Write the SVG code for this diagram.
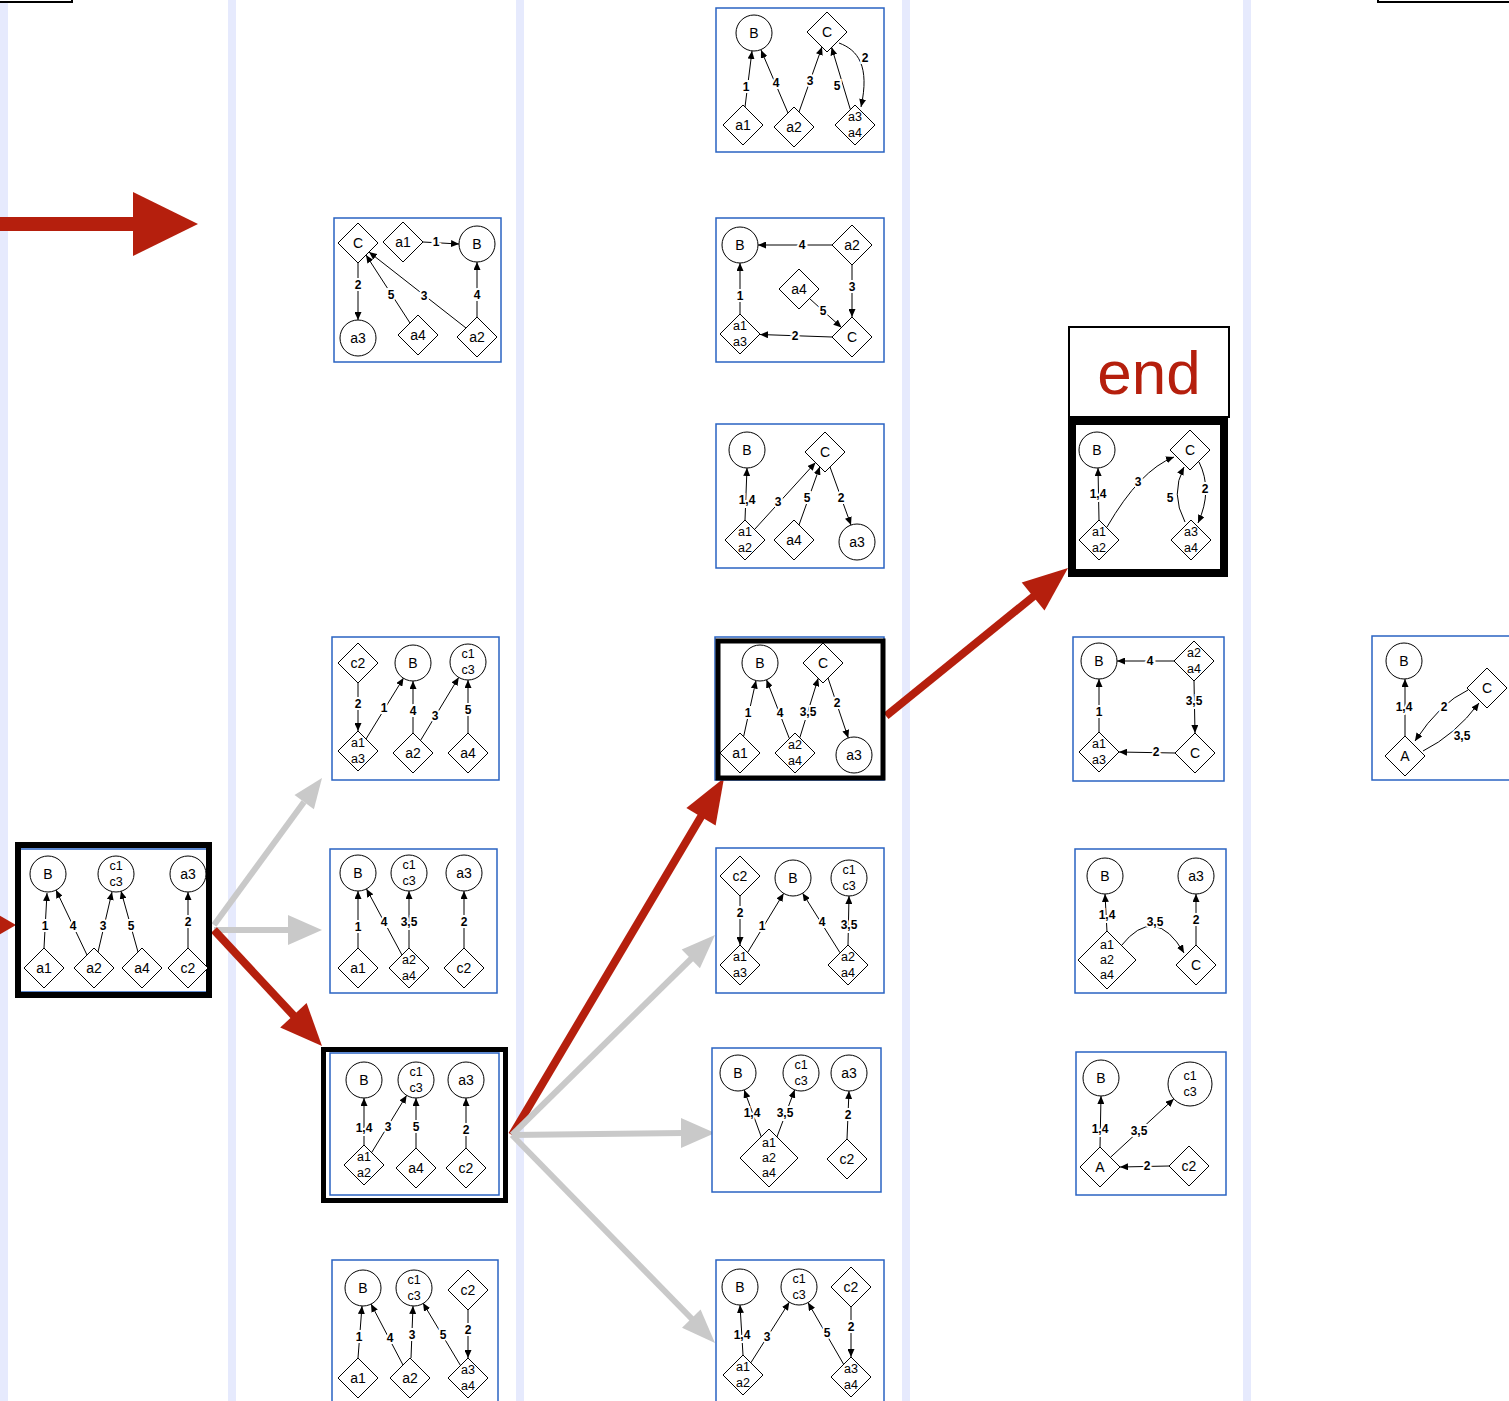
<svg xmlns="http://www.w3.org/2000/svg" xmlns:xlink="http://www.w3.org/1999/xlink" width="1509" height="1401" viewBox="0 0 1509 1401">
<style>
.band{fill:#e6eafd}
.pn{fill:#fff;stroke:#2a63c2;stroke-width:1.5}
.nc{fill:#fff;stroke:#000;stroke-width:1}
.nt{font-family:"Liberation Sans",Arial,sans-serif;font-size:14px;text-anchor:middle;dominant-baseline:central;fill:#000}
.s{font-size:12.5px}
.e{fill:none;stroke:#000;stroke-width:1;marker-end:url(#ah)}
.el{font-family:"Liberation Sans",Arial,sans-serif;font-weight:bold;font-size:12px;text-anchor:middle;dominant-baseline:central;fill:#000;stroke:#fff;stroke-width:4;paint-order:stroke}
.red{fill:#b51f0d}
.redl{stroke:#b51f0d;stroke-width:8;fill:none}
.gry{fill:#c9c9c9}
.gryl{stroke:#c9c9c9;stroke-width:6;fill:none}
</style>
<defs>
<marker id="ah" markerUnits="userSpaceOnUse" markerWidth="9" markerHeight="7" refX="8" refY="3.5" orient="auto"><path d="M0,0 L8,3.5 L0,7 z" fill="#000"/></marker>
<polygon id="d" points="0,-20 20,0 0,20 -20,0" fill="#fff" stroke="#000" stroke-width="1"/>
<polygon id="D" points="0,-29 29,0 0,29 -29,0" fill="#fff" stroke="#000" stroke-width="1"/>
</defs>
<rect width="1509" height="1401" fill="#fff"/>
<g id="bands">
<rect class="band" x="0" y="0" width="8" height="1401"/>
<rect class="band" x="228" y="0" width="8" height="1401"/>
<rect class="band" x="516" y="0" width="8" height="1401"/>
<rect class="band" x="902" y="0" width="8" height="1401"/>
<rect class="band" x="1243" y="0" width="8" height="1401"/>
</g>
<g id="top-boxes">
<rect x="-5" y="-40" width="77" height="42" fill="#fff" stroke="#000" stroke-width="2"/>
<rect x="1378" y="-40" width="140" height="42" fill="#fff" stroke="#000" stroke-width="2"/>
</g>

<g id="flow-arrows">
<rect class="red" x="0" y="217" width="136" height="14"/>
<polygon class="red" points="133,192 198,224 133,256"/>
<polygon class="red" points="-10,910 16,925 -10,940"/>
<line class="gryl" x1="214" y1="925" x2="304" y2="802"/>
<polygon class="gry" points="322,778 313.9,809.3 294.5,795.1"/>
<line class="gryl" x1="214" y1="930" x2="292" y2="930"/>
<polygon class="gry" points="322,930 288,915 288,945"/>
<line class="redl" x1="214" y1="930" x2="294" y2="1016"/>
<polygon class="red" points="322,1046 306.6,1003 280.2,1027.6"/>
<line class="redl" x1="512" y1="1135" x2="702" y2="815"/>
<polygon class="red" points="724,778 715.6,825.4 686.4,808"/>
<line class="gryl" x1="512" y1="1135" x2="692" y2="958"/>
<polygon class="gry" points="715,935 699.9,968.2 681.7,949.6"/>
<line class="gryl" x1="512" y1="1135" x2="684" y2="1133"/>
<polygon class="gry" points="715,1133 681,1118 681,1148"/>
<line class="gryl" x1="512" y1="1135" x2="692" y2="1319"/>
<polygon class="gry" points="715,1343 700.6,1309.6 682,1327.8"/>
<line class="redl" x1="886" y1="716" x2="1034" y2="596"/>
<polygon class="red" points="1068,568 1044.5,610.4 1021.7,582.4"/>
</g>

<!-- Panel 1 -->
<g id="panel-1">
<rect class="pn" x="20" y="849" width="190" height="143"/>
<rect x="18" y="845" width="191" height="150" fill="none" stroke="#000" stroke-width="6"/>
<g id="p1-edges">
<line class="e" x1="44" y1="948" x2="47" y2="893"/>
<line class="e" x1="87" y1="955" x2="56" y2="890"/>
<line class="e" x1="98" y1="952" x2="112" y2="892"/>
<line class="e" x1="138" y1="952" x2="121" y2="891"/>
<line class="e" x1="188" y1="948" x2="188" y2="892"/>
<text class="el" x="45" y="926">1</text>
<text class="el" x="73" y="926">4</text>
<text class="el" x="103" y="926">3</text>
<text class="el" x="131" y="926">5</text>
<text class="el" x="188" y="922">2</text>
</g>
<g id="p1-B"><circle class="nc" cx="48" cy="874" r="18"/><text class="nt" x="48" y="874">B</text></g>
<g id="p1-c1c3"><circle class="nc" cx="116" cy="874" r="18"/><text class="nt s" x="116" y="866">c1</text><text class="nt s" x="116" y="882">c3</text></g>
<g id="p1-a3"><circle class="nc" cx="188" cy="874" r="18"/><text class="nt" x="188" y="874">a3</text></g>
<g id="p1-a1"><use href="#d" x="44" y="968"/><text class="nt" x="44" y="968">a1</text></g>
<g id="p1-a2"><use href="#d" x="94" y="968"/><text class="nt" x="94" y="968">a2</text></g>
<g id="p1-a4"><use href="#d" x="142" y="968"/><text class="nt" x="142" y="968">a4</text></g>
<g id="p1-c2"><use href="#d" x="188" y="968"/><text class="nt" x="188" y="968">c2</text></g>
</g>

<!-- Panel 2a -->
<g id="panel-2a">
<rect class="pn" x="334" y="218" width="167" height="144"/>
<g id="p2a-edges">
<line class="e" x1="423" y1="242" x2="459" y2="244"/>
<line class="e" x1="358" y1="263" x2="358" y2="320"/>
<line class="e" x1="410" y1="323" x2="366" y2="255"/>
<line class="e" x1="466" y1="328" x2="369" y2="252"/>
<line class="e" x1="477" y1="317" x2="477" y2="262"/>
<text class="el" x="436" y="242">1</text>
<text class="el" x="358" y="285">2</text>
<text class="el" x="391" y="295">5</text>
<text class="el" x="424" y="296">3</text>
<text class="el" x="477" y="295">4</text>
</g>
<g id="p2a-C"><use href="#d" x="358" y="243"/><text class="nt" x="358" y="243">C</text></g>
<g id="p2a-a1"><use href="#d" x="403" y="242"/><text class="nt" x="403" y="242">a1</text></g>
<g id="p2a-B"><circle class="nc" cx="477" cy="244" r="18"/><text class="nt" x="477" y="244">B</text></g>
<g id="p2a-a3"><circle class="nc" cx="358" cy="338" r="18"/><text class="nt" x="358" y="338">a3</text></g>
<g id="p2a-a4"><use href="#d" x="418" y="335"/><text class="nt" x="418" y="335">a4</text></g>
<g id="p2a-a2"><use href="#d" x="477" y="337"/><text class="nt" x="477" y="337">a2</text></g>
</g>

<!-- Panel 2b -->
<g id="panel-2b">
<rect class="pn" x="332" y="637" width="167" height="143"/>
<g id="p2b-edges">
<line class="e" x1="358" y1="683" x2="358" y2="731"/>
<line class="e" x1="366" y1="739" x2="403.5" y2="678"/>
<line class="e" x1="413" y1="733" x2="413" y2="681"/>
<line class="e" x1="420.5" y1="740.5" x2="458.7" y2="677.4"/>
<line class="e" x1="468" y1="733" x2="468" y2="680"/>
<text class="el" x="358" y="704">2</text>
<text class="el" x="384" y="708">1</text>
<text class="el" x="413" y="711">4</text>
<text class="el" x="435" y="716">3</text>
<text class="el" x="468" y="710">5</text>
</g>
<g id="p2b-c2"><use href="#d" x="358" y="663"/><text class="nt" x="358" y="663">c2</text></g>
<g id="p2b-B"><circle class="nc" cx="413" cy="663" r="18"/><text class="nt" x="413" y="663">B</text></g>
<g id="p2b-c1c3"><circle class="nc" cx="468" cy="662" r="18"/><text class="nt s" x="468" y="654">c1</text><text class="nt s" x="468" y="670">c3</text></g>
<g id="p2b-a1a3"><use href="#d" x="358" y="751"/><text class="nt s" x="358" y="743">a1</text><text class="nt s" x="358" y="759">a3</text></g>
<g id="p2b-a2"><use href="#d" x="413" y="753"/><text class="nt" x="413" y="753">a2</text></g>
<g id="p2b-a4"><use href="#d" x="468" y="753"/><text class="nt" x="468" y="753">a4</text></g>
</g>

<!-- Panel 2c -->
<g id="panel-2c">
<rect class="pn" x="330" y="849" width="167" height="144"/>
<g id="p2c-edges">
<line class="e" x1="358" y1="948" x2="358" y2="891"/>
<line class="e" x1="402" y1="955" x2="366.5" y2="889"/>
<line class="e" x1="409" y1="948" x2="409" y2="891"/>
<line class="e" x1="464" y1="948" x2="464" y2="891"/>
<text class="el" x="358" y="927">1</text>
<text class="el" x="384" y="922">4</text>
<text class="el" x="409" y="922">3,5</text>
<text class="el" x="464" y="922">2</text>
</g>
<g id="p2c-B"><circle class="nc" cx="358" cy="873" r="18"/><text class="nt" x="358" y="873">B</text></g>
<g id="p2c-c1c3"><circle class="nc" cx="409" cy="873" r="18"/><text class="nt s" x="409" y="865">c1</text><text class="nt s" x="409" y="881">c3</text></g>
<g id="p2c-a3"><circle class="nc" cx="464" cy="873" r="18"/><text class="nt" x="464" y="873">a3</text></g>
<g id="p2c-a1"><use href="#d" x="358" y="968"/><text class="nt" x="358" y="968">a1</text></g>
<g id="p2c-a2a4"><use href="#d" x="409" y="968"/><text class="nt s" x="409" y="960">a2</text><text class="nt s" x="409" y="976">a4</text></g>
<g id="p2c-c2"><use href="#d" x="464" y="968"/><text class="nt" x="464" y="968">c2</text></g>
</g>

<!-- Panel 2d (selected) -->
<g id="panel-2d">
<rect class="pn" x="330" y="1053" width="169" height="142"/>
<rect x="323.5" y="1049.5" width="182" height="151" fill="none" stroke="#000" stroke-width="5"/>
<g id="p2d-edges">
<line class="e" x1="364" y1="1145" x2="364" y2="1098"/>
<line class="e" x1="371.6" y1="1152.6" x2="406.6" y2="1095.4"/>
<line class="e" x1="416" y1="1148" x2="416" y2="1098"/>
<line class="e" x1="466" y1="1148" x2="466" y2="1098"/>
<text class="el" x="364" y="1128">1,4</text>
<text class="el" x="388" y="1127">3</text>
<text class="el" x="416" y="1127">5</text>
<text class="el" x="466" y="1130">2</text>
</g>
<g id="p2d-B"><circle class="nc" cx="364" cy="1080" r="18"/><text class="nt" x="364" y="1080">B</text></g>
<g id="p2d-c1c3"><circle class="nc" cx="416" cy="1080" r="18"/><text class="nt s" x="416" y="1072">c1</text><text class="nt s" x="416" y="1088">c3</text></g>
<g id="p2d-a3"><circle class="nc" cx="466" cy="1080" r="18"/><text class="nt" x="466" y="1080">a3</text></g>
<g id="p2d-a1a2"><use href="#d" x="364" y="1165"/><text class="nt s" x="364" y="1157">a1</text><text class="nt s" x="364" y="1173">a2</text></g>
<g id="p2d-a4"><use href="#d" x="416" y="1168"/><text class="nt" x="416" y="1168">a4</text></g>
<g id="p2d-c2"><use href="#d" x="466" y="1168"/><text class="nt" x="466" y="1168">c2</text></g>
</g>

<!-- Panel 2e -->
<g id="panel-2e">
<rect class="pn" x="332" y="1260" width="166" height="150"/>
<g id="p2e-edges">
<line class="e" x1="358" y1="1358" x2="362" y2="1306"/>
<line class="e" x1="403" y1="1365" x2="371" y2="1304"/>
<line class="e" x1="411" y1="1358" x2="413" y2="1306"/>
<line class="e" x1="460.5" y1="1365.5" x2="423" y2="1303"/>
<line class="e" x1="468" y1="1310" x2="468" y2="1358"/>
<text class="el" x="359" y="1337">1</text>
<text class="el" x="390" y="1338">4</text>
<text class="el" x="412" y="1335">3</text>
<text class="el" x="443" y="1335">5</text>
<text class="el" x="468" y="1330">2</text>
</g>
<g id="p2e-B"><circle class="nc" cx="363" cy="1288" r="18"/><text class="nt" x="363" y="1288">B</text></g>
<g id="p2e-c1c3"><circle class="nc" cx="414" cy="1288" r="18"/><text class="nt s" x="414" y="1280">c1</text><text class="nt s" x="414" y="1296">c3</text></g>
<g id="p2e-c2"><use href="#d" x="468" y="1290"/><text class="nt" x="468" y="1290">c2</text></g>
<g id="p2e-a1"><use href="#d" x="358" y="1378"/><text class="nt" x="358" y="1378">a1</text></g>
<g id="p2e-a2"><use href="#d" x="410" y="1378"/><text class="nt" x="410" y="1378">a2</text></g>
<g id="p2e-a3a4"><use href="#d" x="468" y="1378"/><text class="nt s" x="468" y="1370">a3</text><text class="nt s" x="468" y="1386">a4</text></g>
</g>

<!-- Panel 3a -->
<g id="panel-3a">
<rect class="pn" x="716" y="8" width="168" height="144"/>
<g id="p3a-edges">
<line class="e" x1="745" y1="107" x2="752" y2="51"/>
<line class="e" x1="788" y1="113" x2="761" y2="50"/>
<line class="e" x1="799" y1="112" x2="822" y2="47"/>
<line class="e" x1="850.4" y1="109.7" x2="831.6" y2="47.3"/>
<path class="e" d="M839,43 C858,50 870,66 861,107"/>
<text class="el" x="746" y="87">1</text>
<text class="el" x="776" y="83">4</text>
<text class="el" x="810" y="81">3</text>
<text class="el" x="837" y="86">5</text>
<text class="el" x="865" y="58">2</text>
</g>
<g id="p3a-B"><circle class="nc" cx="754" cy="33" r="18"/><text class="nt" x="754" y="33">B</text></g>
<g id="p3a-C"><use href="#d" x="827" y="32"/><text class="nt" x="827" y="32">C</text></g>
<g id="p3a-a1"><use href="#d" x="743" y="125"/><text class="nt" x="743" y="125">a1</text></g>
<g id="p3a-a2"><use href="#d" x="794" y="127"/><text class="nt" x="794" y="127">a2</text></g>
<g id="p3a-a3a4"><use href="#d" x="855" y="125"/><text class="nt s" x="855" y="117">a3</text><text class="nt s" x="855" y="133">a4</text></g>
</g>

<!-- Panel 3b -->
<g id="panel-3b">
<rect class="pn" x="716" y="218" width="168" height="144"/>
<g id="p3b-edges">
<line class="e" x1="832" y1="245" x2="758" y2="245"/>
<line class="e" x1="852" y1="265" x2="852" y2="317"/>
<line class="e" x1="809.5" y1="298.5" x2="841.5" y2="327.5"/>
<line class="e" x1="832" y1="337" x2="760" y2="334.5"/>
<line class="e" x1="740" y1="314" x2="740" y2="263"/>
<text class="el" x="802" y="245">4</text>
<text class="el" x="852" y="287">3</text>
<text class="el" x="823" y="311">5</text>
<text class="el" x="795" y="336">2</text>
<text class="el" x="740" y="296">1</text>
</g>
<g id="p3b-B"><circle class="nc" cx="740" cy="245" r="18"/><text class="nt" x="740" y="245">B</text></g>
<g id="p3b-a2"><use href="#d" x="852" y="245"/><text class="nt" x="852" y="245">a2</text></g>
<g id="p3b-a4"><use href="#d" x="799" y="289"/><text class="nt" x="799" y="289">a4</text></g>
<g id="p3b-a1a3"><use href="#d" x="740" y="334"/><text class="nt s" x="740" y="326">a1</text><text class="nt s" x="740" y="342">a3</text></g>
<g id="p3b-C"><use href="#d" x="852" y="337"/><text class="nt" x="852" y="337">C</text></g>
</g>

<!-- Panel 3c -->
<g id="panel-3c">
<rect class="pn" x="716" y="424" width="168" height="144"/>
<g id="p3c-edges">
<line class="e" x1="745" y1="520" x2="747" y2="468"/>
<line class="e" x1="754.5" y1="529.5" x2="815.5" y2="462.5"/>
<line class="e" x1="799" y1="525" x2="819.8" y2="466.8"/>
<line class="e" x1="830" y1="467" x2="851" y2="525"/>
<text class="el" x="747" y="500">1,4</text>
<text class="el" x="778" y="502">3</text>
<text class="el" x="807" y="498">5</text>
<text class="el" x="841" y="498">2</text>
</g>
<g id="p3c-B"><circle class="nc" cx="747" cy="450" r="18"/><text class="nt" x="747" y="450">B</text></g>
<g id="p3c-C"><use href="#d" x="825" y="452"/><text class="nt" x="825" y="452">C</text></g>
<g id="p3c-a1a2"><use href="#d" x="745" y="540"/><text class="nt s" x="745" y="532">a1</text><text class="nt s" x="745" y="548">a2</text></g>
<g id="p3c-a4"><use href="#d" x="794" y="540"/><text class="nt" x="794" y="540">a4</text></g>
<g id="p3c-a3"><circle class="nc" cx="857" cy="542" r="18"/><text class="nt" x="857" y="542">a3</text></g>
</g>

<!-- Panel 3d (selected) -->
<g id="panel-3d">
<rect class="pn" x="715" y="637" width="169" height="143"/>
<rect x="718" y="641" width="165" height="137" fill="none" stroke="#000" stroke-width="5"/>
<g id="p3d-edges">
<line class="e" x1="743.6" y1="736.6" x2="756" y2="680.6"/>
<line class="e" x1="789.4" y1="738.6" x2="766.5" y2="679.8"/>
<line class="e" x1="799.8" y1="737.7" x2="818.2" y2="678.3"/>
<line class="e" x1="828" y1="678" x2="848.3" y2="738"/>
<text class="el" x="748" y="713">1</text>
<text class="el" x="780" y="713">4</text>
<text class="el" x="808" y="712">3,5</text>
<text class="el" x="837" y="703">2</text>
</g>
<g id="p3d-B"><circle class="nc" cx="760" cy="663" r="18"/><text class="nt" x="760" y="663">B</text></g>
<g id="p3d-C"><use href="#d" x="823" y="663"/><text class="nt" x="823" y="663">C</text></g>
<g id="p3d-a1"><use href="#d" x="740" y="753"/><text class="nt" x="740" y="753">a1</text></g>
<g id="p3d-a2a4"><use href="#d" x="795" y="753"/><text class="nt s" x="795" y="745">a2</text><text class="nt s" x="795" y="761">a4</text></g>
<g id="p3d-a3"><circle class="nc" cx="854" cy="755" r="18"/><text class="nt" x="854" y="755">a3</text></g>
</g>

<!-- Panel 3e -->
<g id="panel-3e">
<rect class="pn" x="716" y="848" width="168" height="145"/>
<g id="p3e-edges">
<line class="e" x1="740" y1="896" x2="740" y2="945"/>
<line class="e" x1="747.6" y1="952.5" x2="783.6" y2="893.4"/>
<line class="e" x1="840" y1="952.7" x2="802.6" y2="893.2"/>
<line class="e" x1="848" y1="945" x2="849" y2="896"/>
<text class="el" x="740" y="913">2</text>
<text class="el" x="762" y="926">1</text>
<text class="el" x="822" y="922">4</text>
<text class="el" x="849" y="925">3,5</text>
</g>
<g id="p3e-c2"><use href="#d" x="740" y="876"/><text class="nt" x="740" y="876">c2</text></g>
<g id="p3e-B"><circle class="nc" cx="793" cy="878" r="18"/><text class="nt" x="793" y="878">B</text></g>
<g id="p3e-c1c3"><circle class="nc" cx="849" cy="878" r="18"/><text class="nt s" x="849" y="870">c1</text><text class="nt s" x="849" y="886">c3</text></g>
<g id="p3e-a1a3"><use href="#d" x="740" y="965"/><text class="nt s" x="740" y="957">a1</text><text class="nt s" x="740" y="973">a3</text></g>
<g id="p3e-a2a4"><use href="#d" x="848" y="965"/><text class="nt s" x="848" y="957">a2</text><text class="nt s" x="848" y="973">a4</text></g>
</g>

<!-- Panel 3f -->
<g id="panel-3f">
<rect class="pn" x="712" y="1048" width="169" height="144"/>
<g id="p3f-edges">
<line class="e" x1="761.5" y1="1137.5" x2="744.2" y2="1090"/>
<line class="e" x1="776.7" y1="1137.6" x2="794.7" y2="1089.8"/>
<line class="e" x1="847" y1="1139" x2="849" y2="1091"/>
<text class="el" x="752" y="1113">1,4</text>
<text class="el" x="785" y="1113">3,5</text>
<text class="el" x="848" y="1115">2</text>
</g>
<g id="p3f-B"><circle class="nc" cx="738" cy="1073" r="18"/><text class="nt" x="738" y="1073">B</text></g>
<g id="p3f-c1c3"><circle class="nc" cx="801" cy="1073" r="18"/><text class="nt s" x="801" y="1065">c1</text><text class="nt s" x="801" y="1081">c3</text></g>
<g id="p3f-a3"><circle class="nc" cx="849" cy="1073" r="18"/><text class="nt" x="849" y="1073">a3</text></g>
<g id="p3f-a1a2a4"><use href="#D" x="769" y="1158"/><text class="nt s" x="769" y="1143">a1</text><text class="nt s" x="769" y="1158">a2</text><text class="nt s" x="769" y="1173">a4</text></g>
<g id="p3f-c2"><use href="#d" x="847" y="1159"/><text class="nt" x="847" y="1159">c2</text></g>
</g>

<!-- Panel 3g -->
<g id="panel-3g">
<rect class="pn" x="716" y="1260" width="168" height="150"/>
<g id="p3g-edges">
<line class="e" x1="743" y1="1355" x2="740" y2="1305"/>
<line class="e" x1="750.8" y1="1362.8" x2="789.3" y2="1302.2"/>
<line class="e" x1="843.7" y1="1364.4" x2="808" y2="1302.6"/>
<line class="e" x1="851" y1="1307" x2="851" y2="1357"/>
<text class="el" x="742" y="1335">1,4</text>
<text class="el" x="767" y="1337">3</text>
<text class="el" x="827" y="1333">5</text>
<text class="el" x="851" y="1327">2</text>
</g>
<g id="p3g-B"><circle class="nc" cx="740" cy="1287" r="18"/><text class="nt" x="740" y="1287">B</text></g>
<g id="p3g-c1c3"><circle class="nc" cx="799" cy="1287" r="18"/><text class="nt s" x="799" y="1279">c1</text><text class="nt s" x="799" y="1295">c3</text></g>
<g id="p3g-c2"><use href="#d" x="851" y="1287"/><text class="nt" x="851" y="1287">c2</text></g>
<g id="p3g-a1a2"><use href="#d" x="743" y="1375"/><text class="nt s" x="743" y="1367">a1</text><text class="nt s" x="743" y="1383">a2</text></g>
<g id="p3g-a3a4"><use href="#d" x="851" y="1377"/><text class="nt s" x="851" y="1369">a3</text><text class="nt s" x="851" y="1385">a4</text></g>
</g>

<!-- End label -->
<g id="end-label">
<rect x="1069" y="327" width="160" height="90" fill="#fff" stroke="#000" stroke-width="2"/>
<text x="1149" y="394" font-family="Liberation Sans, Arial, sans-serif" font-size="62" text-anchor="middle" fill="#b51f0d">end</text>
</g>

<!-- Panel 4a (end) -->
<g id="panel-4a">
<rect x="1072" y="421" width="152" height="152" fill="#fff" stroke="#000" stroke-width="8"/>
<g id="p4a-edges">
<line class="e" x1="1099" y1="520" x2="1098" y2="468"/>
<path class="e" d="M1107,527 Q1140,470 1174,457"/>
<path class="e" d="M1185,522 Q1170,494 1184,467"/>
<path class="e" d="M1199,462 Q1213,490 1198,523"/>
<text class="el" x="1098" y="494">1,4</text>
<text class="el" x="1138" y="482">3</text>
<text class="el" x="1170" y="498">5</text>
<text class="el" x="1205" y="489">2</text>
</g>
<g id="p4a-B"><circle class="nc" cx="1097" cy="450" r="18"/><text class="nt" x="1097" y="450">B</text></g>
<g id="p4a-C"><use href="#d" x="1190" y="450"/><text class="nt" x="1190" y="450">C</text></g>
<g id="p4a-a1a2"><use href="#d" x="1099" y="540"/><text class="nt s" x="1099" y="532">a1</text><text class="nt s" x="1099" y="548">a2</text></g>
<g id="p4a-a3a4"><use href="#d" x="1191" y="540"/><text class="nt s" x="1191" y="532">a3</text><text class="nt s" x="1191" y="548">a4</text></g>
</g>

<!-- Panel 4b -->
<g id="panel-4b">
<rect class="pn" x="1073" y="637" width="151" height="144"/>
<g id="p4b-edges">
<line class="e" x1="1174" y1="661" x2="1117" y2="661"/>
<line class="e" x1="1194" y1="681" x2="1195" y2="733"/>
<line class="e" x1="1175" y1="753" x2="1119" y2="752"/>
<line class="e" x1="1099" y1="732" x2="1099" y2="679"/>
<text class="el" x="1150" y="661">4</text>
<text class="el" x="1194" y="701">3,5</text>
<text class="el" x="1156" y="752">2</text>
<text class="el" x="1099" y="712">1</text>
</g>
<g id="p4b-B"><circle class="nc" cx="1099" cy="661" r="18"/><text class="nt" x="1099" y="661">B</text></g>
<g id="p4b-a2a4"><use href="#d" x="1194" y="661"/><text class="nt s" x="1194" y="653">a2</text><text class="nt s" x="1194" y="669">a4</text></g>
<g id="p4b-a1a3"><use href="#d" x="1099" y="752"/><text class="nt s" x="1099" y="744">a1</text><text class="nt s" x="1099" y="760">a3</text></g>
<g id="p4b-C"><use href="#d" x="1195" y="753"/><text class="nt" x="1195" y="753">C</text></g>
</g>

<!-- Panel 4c -->
<g id="panel-4c">
<rect class="pn" x="1075" y="849" width="151" height="144"/>
<g id="p4c-edges">
<line class="e" x1="1107" y1="932" x2="1105" y2="894"/>
<path class="e" d="M1121,946 Q1155,903 1184,953"/>
<line class="e" x1="1196" y1="945" x2="1196" y2="894"/>
<text class="el" x="1107" y="915">1,4</text>
<text class="el" x="1155" y="922">3,5</text>
<text class="el" x="1196" y="920">2</text>
</g>
<g id="p4c-B"><circle class="nc" cx="1105" cy="876" r="18"/><text class="nt" x="1105" y="876">B</text></g>
<g id="p4c-a3"><circle class="nc" cx="1196" cy="876" r="18"/><text class="nt" x="1196" y="876">a3</text></g>
<g id="p4c-a1a2a4"><use href="#D" x="1107" y="960"/><text class="nt s" x="1107" y="945">a1</text><text class="nt s" x="1107" y="960">a2</text><text class="nt s" x="1107" y="975">a4</text></g>
<g id="p4c-C"><use href="#d" x="1196" y="965"/><text class="nt" x="1196" y="965">C</text></g>
</g>

<!-- Panel 4d -->
<g id="panel-4d">
<rect class="pn" x="1076" y="1052" width="150" height="143"/>
<g id="p4d-edges">
<line class="e" x1="1100" y1="1147" x2="1101" y2="1096"/>
<line class="e" x1="1110.4" y1="1157.4" x2="1173.8" y2="1098.9"/>
<line class="e" x1="1169" y1="1166" x2="1120" y2="1167"/>
<text class="el" x="1100" y="1129">1,4</text>
<text class="el" x="1139" y="1131">3,5</text>
<text class="el" x="1147" y="1166">2</text>
</g>
<g id="p4d-B"><circle class="nc" cx="1101" cy="1078" r="18"/><text class="nt" x="1101" y="1078">B</text></g>
<g id="p4d-c1c3"><circle class="nc" cx="1190" cy="1084" r="22"/><text class="nt s" x="1190" y="1076">c1</text><text class="nt s" x="1190" y="1092">c3</text></g>
<g id="p4d-A"><use href="#d" x="1100" y="1167"/><text class="nt" x="1100" y="1167">A</text></g>
<g id="p4d-c2"><use href="#d" x="1189" y="1166"/><text class="nt" x="1189" y="1166">c2</text></g>
</g>

<!-- Panel 5 -->
<g id="panel-5">
<rect class="pn" x="1372" y="636" width="145" height="144"/>
<g id="p5-edges">
<line class="e" x1="1405" y1="736" x2="1405" y2="679"/>
<path class="e" d="M1423,751 Q1455,735 1479,703"/>
<path class="e" d="M1468,690 Q1440,703 1415,741"/>
<text class="el" x="1404" y="707">1,4</text>
<text class="el" x="1462" y="736">3,5</text>
<text class="el" x="1444" y="707">2</text>
</g>
<g id="p5-B"><circle class="nc" cx="1404" cy="661" r="18"/><text class="nt" x="1404" y="661">B</text></g>
<g id="p5-C"><use href="#d" x="1487" y="688"/><text class="nt" x="1487" y="688">C</text></g>
<g id="p5-A"><use href="#d" x="1405" y="756"/><text class="nt" x="1405" y="756">A</text></g>
</g>
</svg>
